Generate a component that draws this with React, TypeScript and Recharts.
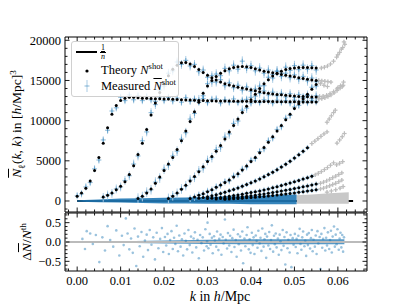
import {
  ComposedChart,
  Scatter,
  Area,
  XAxis,
  YAxis,
  ErrorBar,
  ReferenceArea,
  ReferenceLine,
} from 'recharts';

const FONT = '"Liberation Serif", "DejaVu Serif", serif';
const C0 = '#1f77b4';

// plot frame (pixels) shared by both panels
const PLOT_L = 65;
const PLOT_R = 367;

const X_DOMAIN = [-0.0028, 0.0667];
const TOP_DOMAIN = [-1370, 20410];
const RES_DOMAIN = [-0.75, 0.75];

const round = (v: number) => Math.round(v * 1e6) / 1e6;
const xTicks = Array.from({ length: 35 }, (_, i) => round(-0.002 + i * 0.002));
const topYTicks = Array.from({ length: 22 }, (_, i) => -1000 + i * 1000);
const resYTicks = Array.from({ length: 15 }, (_, i) => round(-0.7 + i * 0.1));

// k bins of the theory / measured points
const kGrid = [
  0.0, 0.001, 0.002, 0.003, 0.004, 0.005, 0.006, 0.007, 0.008, 0.009,
  0.01, 0.011, 0.012, 0.013, 0.014, 0.015, 0.016, 0.017, 0.018, 0.019,
  0.02, 0.021, 0.022, 0.023, 0.024, 0.025, 0.026, 0.027, 0.028, 0.029,
  0.03, 0.031, 0.032, 0.033, 0.034, 0.035, 0.036, 0.037, 0.038, 0.039,
  0.04, 0.041, 0.042, 0.043, 0.044, 0.045, 0.046, 0.047, 0.048, 0.049,
  0.05, 0.051, 0.052, 0.053, 0.054, 0.055,
];

// curve 1 starts at kGrid[0]
const r1Theory = [
  600, 1000, 1600, 2500, 3800, 5400, 7200, 9100, 10800, 11900,
  12500, 12800, 12900, 12900, 12850, 12800, 12780, 12760, 12740, 12720,
  12700, 12680, 12650, 12620, 12600, 12580, 12560, 12540, 12520, 12500,
  12480, 12470, 12460, 12450, 12440, 12430, 12420, 12410, 12400, 12400,
  12390, 12390, 12380, 12380, 12370, 12370, 12360, 12360, 12350, 12350,
  12340, 12340, 12330, 12330, 12320, 12320,
];
const r1Measured = [
  650, 900, 1750, 2300, 4000, 5100, 7600, 8800, 11200, 11600,
  12900, 12500, 13200, 12600, 13100, 12500, 13000, 12600, 12400, 12950,
  12500, 12900, 12450, 12800, 12300, 12850, 12400, 12700, 12300, 12750,
  12250, 12650, 12700, 12200, 12600, 12300, 12700, 12250, 12550, 12650,
  12200, 12500, 12250, 12600, 12450, 12200, 12550, 12300, 12500, 12200,
  12550, 12300, 12450, 12250, 12500, 12350,
];

// curve 2 starts at k = 0.006
const r2Theory = [
  500, 700, 1000, 1400, 1850, 2400, 3300, 4400, 5800, 7200,
  8900, 10700, 12200, 13500, 14600, 15600, 16400, 16900, 17200, 17250,
  17050, 16750, 16350, 16000, 15650, 15350, 15050, 14800, 14600, 14450,
  14300, 14150, 14050, 13950, 13850, 13720, 13600, 13480, 13400, 13320,
  13260, 13210, 13160, 13110, 13060, 13020, 12990, 12970, 12950, 12940,
];
const r2Measured = [
  450, 750, 950, 1500, 1750, 2550, 3150, 4600, 5600, 7500,
  8600, 11000, 12000, 13800, 14300, 15900, 16200, 17300, 17000, 17500,
  16800, 17000, 16100, 16300, 15400, 15600, 14800, 15100, 14350, 14700,
  14100, 14400, 13800, 14200, 13650, 13950, 13400, 13700, 13200, 13550,
  13100, 13400, 12950, 13350, 12900, 13250, 12800, 13200, 12750, 13100,
];

// curve 3 starts at k = 0.014
const r3Theory = [
  300, 600, 1000, 1500, 2200, 3000, 3800, 4600, 5400, 6400,
  7500, 8700, 9900, 11100, 12300, 13400, 14300, 15000, 15500, 15900,
  16200, 16450, 16600, 16700, 16750, 16700, 16600, 16450, 16300, 16150,
  16050, 15950, 15850, 15750, 15650, 15550, 15450, 15350, 15250, 15150,
  15050, 15000,
];
const r3Measured = [
  350, 550, 1100, 1400, 2350, 2850, 3950, 4450, 5600, 6200,
  7700, 8500, 10200, 10900, 12600, 13100, 14600, 14800, 15800, 15600,
  16500, 16200, 16900, 16400, 17400, 16500, 16850, 16200, 16550, 15900,
  16300, 15750, 16100, 15500, 15900, 15350, 15700, 15150, 15500, 14950,
  15300, 14850,
];

// curve 4 starts at k = 0.021
const r4Theory = [
  300, 600, 1000, 1450, 1950, 2500, 3050, 3650, 4250, 4900,
  5550, 6200, 6900, 7700, 8600, 9400, 10200, 11000, 11800, 12600,
  13300, 14000, 14600, 15100, 15550, 15900, 16150, 16350, 16480, 16560,
  16600, 16610, 16600, 16580, 16550,
];
const r4Measured = [
  320, 650, 950, 1500, 1900, 2600, 2950, 3750, 4100, 5050,
  5400, 6400, 6700, 7950, 8350, 9650, 9950, 11300, 11550, 12900,
  13050, 14300, 14350, 15400, 15300, 16200, 15900, 16650, 16250, 16850,
  16350, 16900, 16400, 16850, 16300,
];

// curve 5 starts at k = 0.026
const r5Theory = [
  300, 500, 700, 900, 1150, 1400, 1700, 2000, 2300, 2600,
  3000, 3400, 3850, 4350, 4900, 5400, 6000, 6650, 7300, 8000,
  8700, 9400, 10100, 10800, 11500, 12100, 12700, 13300, 13900, 14500,
];
const r5Measured = [
  320, 480, 740, 870, 1200, 1350, 1750, 1950, 2380, 2520,
  3100, 3300, 3950, 4250, 5050, 5300, 6150, 6500, 7500, 7850,
  8900, 9250, 10300, 10650, 11700, 11900, 12950, 13100, 14150, 14300,
];

// lower curves, starting at k = 0.028, 0.030, 0.032, 0.034
const r6Theory = [
  350, 420, 520, 640, 780, 930, 1090, 1260, 1440, 1630,
  1830, 2040, 2260, 2500, 2750, 3010, 3290, 3590, 3900, 4230,
  4580, 4950, 5340, 5750, 6180, 6630,
];
const r7Theory = [
  300, 350, 400, 450, 520, 600, 680, 760, 850, 950,
  1050, 1150, 1250, 1380, 1500, 1640, 1780, 1930, 2080, 2240,
  2400, 2560, 2730, 2900, 3080,
];
const r8Theory = [
  250, 300, 340, 380, 430, 480, 540, 600, 660, 730,
  800, 880, 960, 1050, 1140, 1240, 1340, 1440, 1550, 1660,
  1770, 1880, 2000, 2100,
];
const r9Theory = [
  220, 250, 280, 310, 350, 390, 430, 470, 520, 570,
  620, 680, 740, 800, 870, 940, 1010, 1080, 1160, 1240,
  1320, 1400,
];

const curves = [
  { start: 0, theory: r1Theory, measured: r1Measured, err: 450 },
  { start: 6, theory: r2Theory, measured: r2Measured, err: 550 },
  { start: 14, theory: r3Theory, measured: r3Measured, err: 600 },
  { start: 21, theory: r4Theory, measured: r4Measured, err: 600 },
  { start: 26, theory: r5Theory, measured: r5Measured, err: 450 },
  { start: 28, theory: r6Theory, measured: r6Theory, err: 250 },
  { start: 30, theory: r7Theory, measured: r7Theory, err: 150 },
  { start: 32, theory: r8Theory, measured: r8Theory, err: 120 },
  { start: 34, theory: r9Theory, measured: r9Theory, err: 100 },
];

// points beyond the fitted range (grey)
const greyK = [
  0.0556, 0.0563, 0.057, 0.0577, 0.0584, 0.0591, 0.0598, 0.0605, 0.0612,
  0.0558, 0.0566, 0.0574, 0.0582, 0.059, 0.0598, 0.0606, 0.0613,
  0.0556, 0.0563, 0.057, 0.0577, 0.0584,
  0.0562, 0.0569, 0.0576, 0.0583, 0.059, 0.0597, 0.0604, 0.0611, 0.0616, 0.06, 0.0608, 0.0614,
  0.056, 0.0568, 0.0576, 0.06, 0.061,
  0.0575, 0.058, 0.0585, 0.059, 0.0594,
  0.054, 0.0547, 0.0554, 0.0561, 0.0568, 0.0575,
  0.0598, 0.0604, 0.061, 0.0615,
  0.0548, 0.0555, 0.0562, 0.0569, 0.0576, 0.0583, 0.059, 0.0597, 0.0604, 0.0611,
  0.056, 0.0567, 0.0574, 0.0581, 0.0588, 0.0595, 0.0602, 0.0609,
  0.056, 0.0567, 0.0574, 0.0581, 0.0588, 0.0595, 0.0602, 0.0609,
  0.0575, 0.0585, 0.0595, 0.0605, 0.0612,
];
const greyY = [
  12700, 12750, 12850, 13000, 13200, 13450, 13750, 14050, 14400,
  13000, 13050, 13150, 13350, 13600, 13950, 14350, 14800,
  15000, 14950, 14900, 14850, 14800,
  16550, 16650, 16800, 17050, 17400, 17900, 18500, 19100, 19500, 18200, 18900, 19800,
  14600, 14400, 14250, 14100, 14250,
  9800, 10200, 10600, 11000, 11300,
  7150, 7450, 7750, 8050, 8350, 8600,
  7200, 7600, 8000, 8400,
  3250, 3450, 3650, 3900, 4150, 4450, 4750, 4500, 4700, 4900,
  2200, 2350, 2500, 2700, 2900, 3100, 3300, 3500,
  1500, 1600, 1750, 1900, 2050, 2200, 2400, 2600,
  1100, 1250, 1400, 1600, 1800,
];

// envelope of the many low curves near zero
const bandK = [0.0, 0.005, 0.01, 0.015, 0.02, 0.025, 0.03, 0.035, 0.04, 0.045, 0.05, 0.0505];
const bandLo = [-100, -150, -200, -250, -300, -300, -350, -350, -400, -400, -400, -400];
const bandHi = [100, 200, 300, 350, 400, 450, 500, 550, 600, 700, 800, 800];
const greyBandK = [0.0505, 0.054, 0.058, 0.0625];
const greyBandLo = [-350, -350, -350, -350];
const greyBandHi = [700, 800, 950, 1100];

// 1/nbar reference
const invNbarK = [0.0, 0.0635];
const invNbarLevel = 0;

// residuals (bottom panel)
const residK = [
  0.0012, 0.0018, 0.0022, 0.003, 0.0036, 0.0043, 0.0051, 0.0058, 0.0064, 0.007, 0.0076, 0.0083, 0.009, 0.0097,
  0.0103, 0.0107, 0.0112, 0.0116, 0.012, 0.0124, 0.0128, 0.0132, 0.0136, 0.014, 0.0144, 0.0148, 0.0152,
  0.0156, 0.016, 0.0163, 0.0167, 0.0171, 0.0175, 0.0179, 0.0183, 0.0187, 0.0191, 0.0195, 0.0198,
  0.0202, 0.0205, 0.0208, 0.0211, 0.0214, 0.0217, 0.022, 0.0223, 0.0226, 0.0229, 0.0232, 0.0235, 0.0238,
  0.0241, 0.0244, 0.0247, 0.025, 0.0253, 0.0256, 0.0259, 0.0262, 0.0265, 0.0268, 0.0271, 0.0274, 0.0277,
  0.028, 0.0283, 0.0286, 0.0289, 0.0292, 0.0295, 0.0298, 0.03, 0.0299,
  0.0302, 0.0305, 0.0307, 0.031, 0.0312, 0.0315, 0.0317, 0.032, 0.0322, 0.0325, 0.0327, 0.033, 0.0332,
  0.0335, 0.0337, 0.034, 0.0342, 0.0345, 0.0347, 0.035, 0.0352, 0.0355, 0.0357, 0.036, 0.0362, 0.0365,
  0.0367, 0.037, 0.0372, 0.0375, 0.0377, 0.038, 0.0382, 0.0385, 0.0387, 0.039, 0.0392, 0.0395, 0.0397, 0.0399,
  0.0402, 0.0404, 0.0406, 0.0408, 0.0411, 0.0413, 0.0415, 0.0417, 0.042, 0.0422, 0.0424, 0.0426, 0.0429,
  0.0431, 0.0433, 0.0435, 0.0437, 0.044, 0.0442, 0.0444, 0.0446, 0.0448, 0.0451, 0.0453, 0.0455, 0.0457,
  0.0459, 0.0462, 0.0464, 0.0466, 0.0468, 0.047, 0.0473, 0.0475, 0.0477, 0.0479, 0.0482, 0.0484, 0.0486,
  0.0489, 0.0491, 0.0493, 0.0496, 0.0498,
  0.0501, 0.0503, 0.0505, 0.0507, 0.0509, 0.0512, 0.0514, 0.0516, 0.0518, 0.052, 0.0523, 0.0525, 0.0527,
  0.0529, 0.0531, 0.0533, 0.0536, 0.0538, 0.054, 0.0542, 0.0544, 0.0547, 0.0549, 0.0551, 0.0553, 0.0555,
  0.0558, 0.056, 0.0562, 0.0564, 0.0566, 0.0569, 0.0571, 0.0573, 0.0575, 0.0577, 0.058, 0.0582, 0.0584,
  0.0586, 0.0588, 0.0591, 0.0593, 0.0595, 0.0597, 0.0599, 0.0602, 0.0604, 0.0606, 0.0608, 0.061, 0.0612, 0.0614,
];
const residR = [
  0.08, -0.18, 0.28, 0.22, -0.05, 0.18, -0.52, 0.12, -0.22, 0.41, 0.05, -0.12, 0.3, -0.35,
  0.16, -0.08, 0.61, 0.22, -0.19, 0.09, -0.28, 0.35, -0.62, 0.14, -0.11, 0.26, -0.38,
  0.04, 0.19, -0.21, 0.31, -0.07, 0.12, -0.45, 0.24, -0.16, 0.08, 0.36, -0.26,
  0.13, -0.09, 0.21, -0.31, 0.05, 0.28, -0.18, 0.11, -0.05, 0.42, -0.24, 0.17, -0.12,
  0.07, -0.35, 0.22, 0.03, -0.19, 0.31, -0.08, 0.14, -0.27, 0.09, 0.25, -0.14, 0.06,
  -0.42, 0.18, -0.03, 0.12, -0.22, 0.33, -0.11, 0.5, 0.02,
  -0.16, 0.21, -0.07, 0.11, -0.29, 0.15, 0.04, -0.12, 0.27, -0.21, 0.08, 0.19, -0.33,
  0.13, -0.04, 0.58, 0.06, -0.17, 0.23, -0.09, 0.16, -0.26, 0.1, 0.32, -0.13, 0.05,
  -0.38, 0.2, -0.06, 0.14, -0.22, 0.27, -0.55, 0.09, -0.11, 0.18, 0.38, -0.19, 0.07, -0.28,
  0.24, -0.08, 0.12, -0.31, 0.17, 0.03, -0.15, 0.29, -0.04, 0.11, -0.23, 0.35, -0.12,
  0.07, 0.21, -0.41, 0.14, -0.09, 0.26, -0.18, 0.05, 0.43, -0.25, 0.16, -0.06, 0.22,
  -0.14, 0.09, -0.33, 0.19, 0.02, -0.21, 0.31, -0.1, 0.13, -0.58, 0.25, -0.16, 0.06,
  -0.27, 0.18, -0.65, 0.1, -0.07,
  0.21, -0.13, 0.08, -0.29, 0.16, 0.34, -0.05, -0.2, 0.12, 0.27, -0.11, 0.04, -0.36,
  0.19, -0.08, 0.23, -0.17, 0.1, 0.31, -0.24, 0.06, -0.12, 0.17, -0.31, 0.28, -0.04,
  0.13, -0.7, 0.21, -0.15, 0.08, 0.36, -0.22, 0.11, -0.09, 0.25, -0.18, 0.05, 0.29,
  -0.27, 0.14, 0.4, -0.12, 0.19, -0.06, 0.33, -0.2, 0.09, 0.24, -0.14, 0.18, -0.25, 0.12,
];

// dense core of residuals around zero
const coreK = [0.004, 0.01, 0.02, 0.03, 0.04, 0.05, 0.0615];
const coreLo = [-0.01, -0.02, -0.04, -0.05, -0.06, -0.06, -0.06];
const coreHi = [0.01, 0.02, 0.04, 0.06, 0.07, 0.07, 0.07];

const bandRows = bandK.map((k, i) => ({ k, range: [bandLo[i], bandHi[i]] }));
const greyBandRows = greyBandK.map((k, i) => ({ k, range: [greyBandLo[i], greyBandHi[i]] }));
const greyRows = greyK.map((k, i) => ({ k, y: greyY[i], err: 250 }));
const invNbarRows = invNbarK.map((k) => ({ k, y: invNbarLevel }));
const residRows = residK.map((k, i) => ({ k, y: residR[i] }));
const coreRows = coreK.map((k, i) => ({ k, range: [coreLo[i], coreHi[i]] }));

const toRows = (start: number, values: number[], err: number) =>
  values.map((y, i) => ({ k: kGrid[start + i], y, err }));

function xTick(top: number, bottom: number, withLabels: boolean) {
  return (props: any) => {
    const { x, payload } = props;
    const v = payload.value;
    const major = Math.abs(v * 100 - Math.round(v * 100)) < 1e-6;
    const len = major ? 4.5 : 2.5;
    return (
      <g>
        <line x1={x} x2={x} y1={bottom} y2={bottom - len} stroke="#000" strokeWidth={0.9} />
        <line x1={x} x2={x} y1={top} y2={top + len} stroke="#000" strokeWidth={0.9} />
        {withLabels && major && (
          <text x={x} y={bottom + 14} textAnchor="middle" fontFamily={FONT} fontSize={12.5} fill="#000">
            {v.toFixed(2)}
          </text>
        )}
      </g>
    );
  };
}

function yTick(isMajor: (v: number) => boolean, fmt: (v: number) => string) {
  return (props: any) => {
    const { y, payload } = props;
    const v = payload.value;
    const major = isMajor(v);
    const len = major ? 4.5 : 2.5;
    return (
      <g>
        <line x1={PLOT_L} x2={PLOT_L + len} y1={y} y2={y} stroke="#000" strokeWidth={0.9} />
        <line x1={PLOT_R} x2={PLOT_R - len} y1={y} y2={y} stroke="#000" strokeWidth={0.9} />
        {major && (
          <text x={PLOT_L - 4} y={y} dy="0.35em" textAnchor="end" fontFamily={FONT} fontSize={12.5} fill="#000">
            {fmt(v)}
          </text>
        )}
      </g>
    );
  };
}

const plusShape = (color: string, opacity: number, size: number) => (props: any) => {
  const { cx, cy } = props;
  return (
    <g stroke={color} strokeOpacity={opacity} strokeWidth={1.2}>
      <line x1={cx - size} x2={cx + size} y1={cy} y2={cy} />
      <line x1={cx} x2={cx} y1={cy - size} y2={cy + size} />
    </g>
  );
};

const dotShape = (props: any) => <circle cx={props.cx} cy={props.cy} r={1.5} fill="#000" />;
const residShape = (props: any) => (
  <circle cx={props.cx} cy={props.cy} r={1.3} fill={C0} fillOpacity={0.45} />
);

function TopPanel() {
  return (
    <ComposedChart width={407} height={213} margin={{ top: 37, right: 40, bottom: 0, left: 0 }}>
      <XAxis
        type="number"
        dataKey="k"
        domain={X_DOMAIN}
        ticks={xTicks}
        interval={0}
        allowDataOverflow
        height={1}
        axisLine={false}
        tickLine={false}
        tick={xTick(37, 212, false)}
      />
      <YAxis
        type="number"
        dataKey="y"
        domain={TOP_DOMAIN}
        ticks={topYTicks}
        interval={0}
        allowDataOverflow
        width={65}
        axisLine={false}
        tickLine={false}
        tick={yTick((v) => v % 5000 === 0, (v) => String(v))}
      />
      {/* 1/nbar level, drawn as an unfilled area so it sits below the band */}
      <Area data={invNbarRows} dataKey="y" stroke="#000" strokeWidth={2} fill="none" isAnimationActive={false} />
      <Area data={greyBandRows} dataKey="range" fill="#c8c8c8" stroke="none" fillOpacity={1} isAnimationActive={false} />
      <Area data={bandRows} dataKey="range" fill={C0} stroke="none" fillOpacity={0.9} isAnimationActive={false} />
      <Scatter data={greyRows} shape={plusShape('#bdbdbd', 1, 2.2)} isAnimationActive={false}>
        <ErrorBar dataKey="err" direction="y" width={0} stroke="#d6d6d6" strokeWidth={1} />
      </Scatter>
      {curves.map((c, i) => (
        <Scatter
          key={`m${i}`}
          data={toRows(c.start, c.measured, c.err)}
          shape={plusShape(C0, 0.45, 2.5)}
          isAnimationActive={false}
        >
          <ErrorBar dataKey="err" direction="y" width={0} stroke="#a9cbe4" strokeWidth={1} />
        </Scatter>
      ))}
      {curves.map((c, i) => (
        <Scatter key={`t${i}`} data={toRows(c.start, c.theory, 0)} shape={dotShape} isAnimationActive={false} />
      ))}
      <ReferenceArea
        x1={X_DOMAIN[0]}
        x2={X_DOMAIN[1]}
        y1={TOP_DOMAIN[0]}
        y2={TOP_DOMAIN[1]}
        fill="none"
        fillOpacity={0}
        stroke="#000"
        strokeWidth={1}
      />
    </ComposedChart>
  );
}

function ResidualPanel() {
  return (
    <ComposedChart width={407} height={93} margin={{ top: 1, right: 40, bottom: 33, left: 0 }}>
      <XAxis
        type="number"
        dataKey="k"
        domain={X_DOMAIN}
        ticks={xTicks}
        interval={0}
        allowDataOverflow
        height={1}
        axisLine={false}
        tickLine={false}
        tick={xTick(1, 59, true)}
      />
      <YAxis
        type="number"
        dataKey="y"
        domain={RES_DOMAIN}
        ticks={resYTicks}
        interval={0}
        allowDataOverflow
        width={65}
        axisLine={false}
        tickLine={false}
        tick={yTick(
          (v) => Math.abs(v * 2 - Math.round(v * 2)) < 1e-6,
          (v) => (v < 0 ? '\u2212' : '') + Math.abs(v).toFixed(1),
        )}
      />
      <ReferenceLine y={0} stroke="#bbbbbb" strokeWidth={2} />
      <Scatter data={residRows} shape={residShape} isAnimationActive={false} />
      <Area data={coreRows} dataKey="range" fill={C0} stroke="none" fillOpacity={0.75} isAnimationActive={false} />
      <ReferenceArea
        x1={X_DOMAIN[0]}
        x2={X_DOMAIN[1]}
        y1={RES_DOMAIN[0]}
        y2={RES_DOMAIN[1]}
        fill="none"
        fillOpacity={0}
        stroke="#000"
        strokeWidth={1}
      />
    </ComposedChart>
  );
}

const sup = { fontSize: '0.68em', verticalAlign: 'super', lineHeight: 0 } as const;
const sub = { fontSize: '0.72em', verticalAlign: 'sub', lineHeight: 0 } as const;
const bar = { textDecoration: 'overline', fontStyle: 'italic' } as const;

function LegendBox() {
  return (
    <div
      style={{
        position: 'absolute',
        left: 71,
        top: 41,
        width: 106,
        height: 54,
        border: '1px solid #d0d0d0',
        borderRadius: 3,
        background: 'rgba(255,255,255,0.8)',
        fontFamily: FONT,
        fontSize: 12.5,
        color: '#000',
      }}
    >
      <svg width={30} height={54} style={{ position: 'absolute', left: 0, top: 0 }}>
        <line x1={4} x2={25} y1={10} y2={10} stroke="#000" strokeWidth={2} />
        <circle cx={15} cy={29} r={1.6} fill="#000" />
        <line x1={15} x2={15} y1={38} y2={50} stroke="#a9cbe4" strokeWidth={1} />
        <line x1={12.5} x2={17.5} y1={44} y2={44} stroke={C0} strokeOpacity={0.45} strokeWidth={1.2} />
      </svg>
      <div
        style={{
          position: 'absolute',
          left: 28,
          top: 2,
          fontSize: 8,
          lineHeight: '8px',
          textAlign: 'center',
        }}
      >
        <div style={{ borderBottom: '0.8px solid #000', padding: '0 1px' }}>1</div>
        <div style={bar}>n</div>
      </div>
      <div style={{ position: 'absolute', left: 29, top: 21, whiteSpace: 'nowrap' }}>
        Theory <i>N</i>
        <span style={sup}>shot</span>
      </div>
      <div style={{ position: 'absolute', left: 29, top: 37, whiteSpace: 'nowrap' }}>
        Measured <span style={bar}>N</span>
        <span style={sup}>shot</span>
      </div>
    </div>
  );
}

export default function App() {
  return (
    <div
      style={{
        position: 'absolute',
        left: 0,
        top: 0,
        width: 407,
        height: 305,
        background: '#fff',
        fontFamily: FONT,
      }}
    >
      <div style={{ position: 'absolute', left: 0, top: 0 }}>
        <TopPanel />
      </div>
      <div style={{ position: 'absolute', left: 0, top: 212 }}>
        <ResidualPanel />
      </div>
      <LegendBox />
      <div
        style={{
          position: 'absolute',
          left: 17,
          top: 124,
          transform: 'translate(-50%, -50%) rotate(-90deg)',
          whiteSpace: 'nowrap',
          fontSize: 13.5,
        }}
      >
        <span style={bar}>N</span>
        <span style={sub}>ℓ</span>(<i>k</i>, <i>k</i>) in [<i>h</i>/Mpc]<span style={sup}>3</span>
      </div>
      <div
        style={{
          position: 'absolute',
          left: 27,
          top: 242,
          transform: 'translate(-50%, -50%) rotate(-90deg)',
          whiteSpace: 'nowrap',
          fontSize: 13.5,
        }}
      >
        Δ<span style={bar}>N</span>/<i>N</i>
        <span style={sup}>th</span>
      </div>
      <div
        style={{
          position: 'absolute',
          left: 220,
          top: 297,
          transform: 'translate(-50%, -50%)',
          whiteSpace: 'nowrap',
          fontSize: 14,
        }}
      >
        <i>k</i> in <i>h</i>/Mpc
      </div>
    </div>
  );
}
